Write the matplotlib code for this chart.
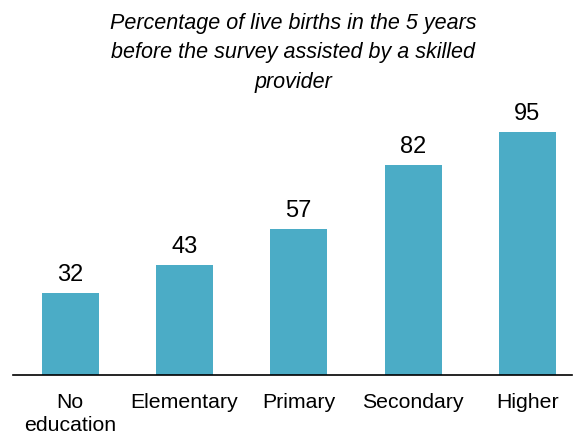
import numpy as np
import matplotlib.pyplot as plt

plt.rcParams['font.family'] = ['Liberation Sans', 'DejaVu Sans']

# datos
categorias = ['No\neducation', 'Elementary', 'Primary', 'Secondary', 'Higher']
valores = [32, 43, 57, 82, 95]
titulo = 'Percentage of live births in the 5 years\nbefore the survey assisted by a skilled\nprovider'

fig = plt.figure(figsize=(5.81, 4.32), dpi=100)
ax = fig.add_axes([13/581, 57/432, (572-13)/581, 275/432])

x = np.arange(len(valores))
barras = ax.bar(x, valores, width=0.5, color='#4BACC6')

# etiquetas de valores encima de cada barra
for xi, v in zip(x, valores):
    ax.text(xi, v + 2.8, str(v), ha='center', va='bottom', fontsize=17)

ax.set_xlim(-0.5, 4.39)
ax.set_ylim(0, 107.5)
ax.set_xticks(x)
ax.set_xticklabels(categorias, fontsize=15.3, linespacing=1.28)
ax.tick_params(axis='x', length=0, pad=13)
ax.set_yticks([])
for lado in ['top', 'right', 'left']:
    ax.spines[lado].set_visible(False)
ax.spines['bottom'].set_linewidth(1.2)

fig.text(293/581, 1 - 13/432, titulo, ha='center', va='top', fontsize=15.5,
         style='italic', linespacing=1.52)

fig.savefig('out.png', dpi=100)
